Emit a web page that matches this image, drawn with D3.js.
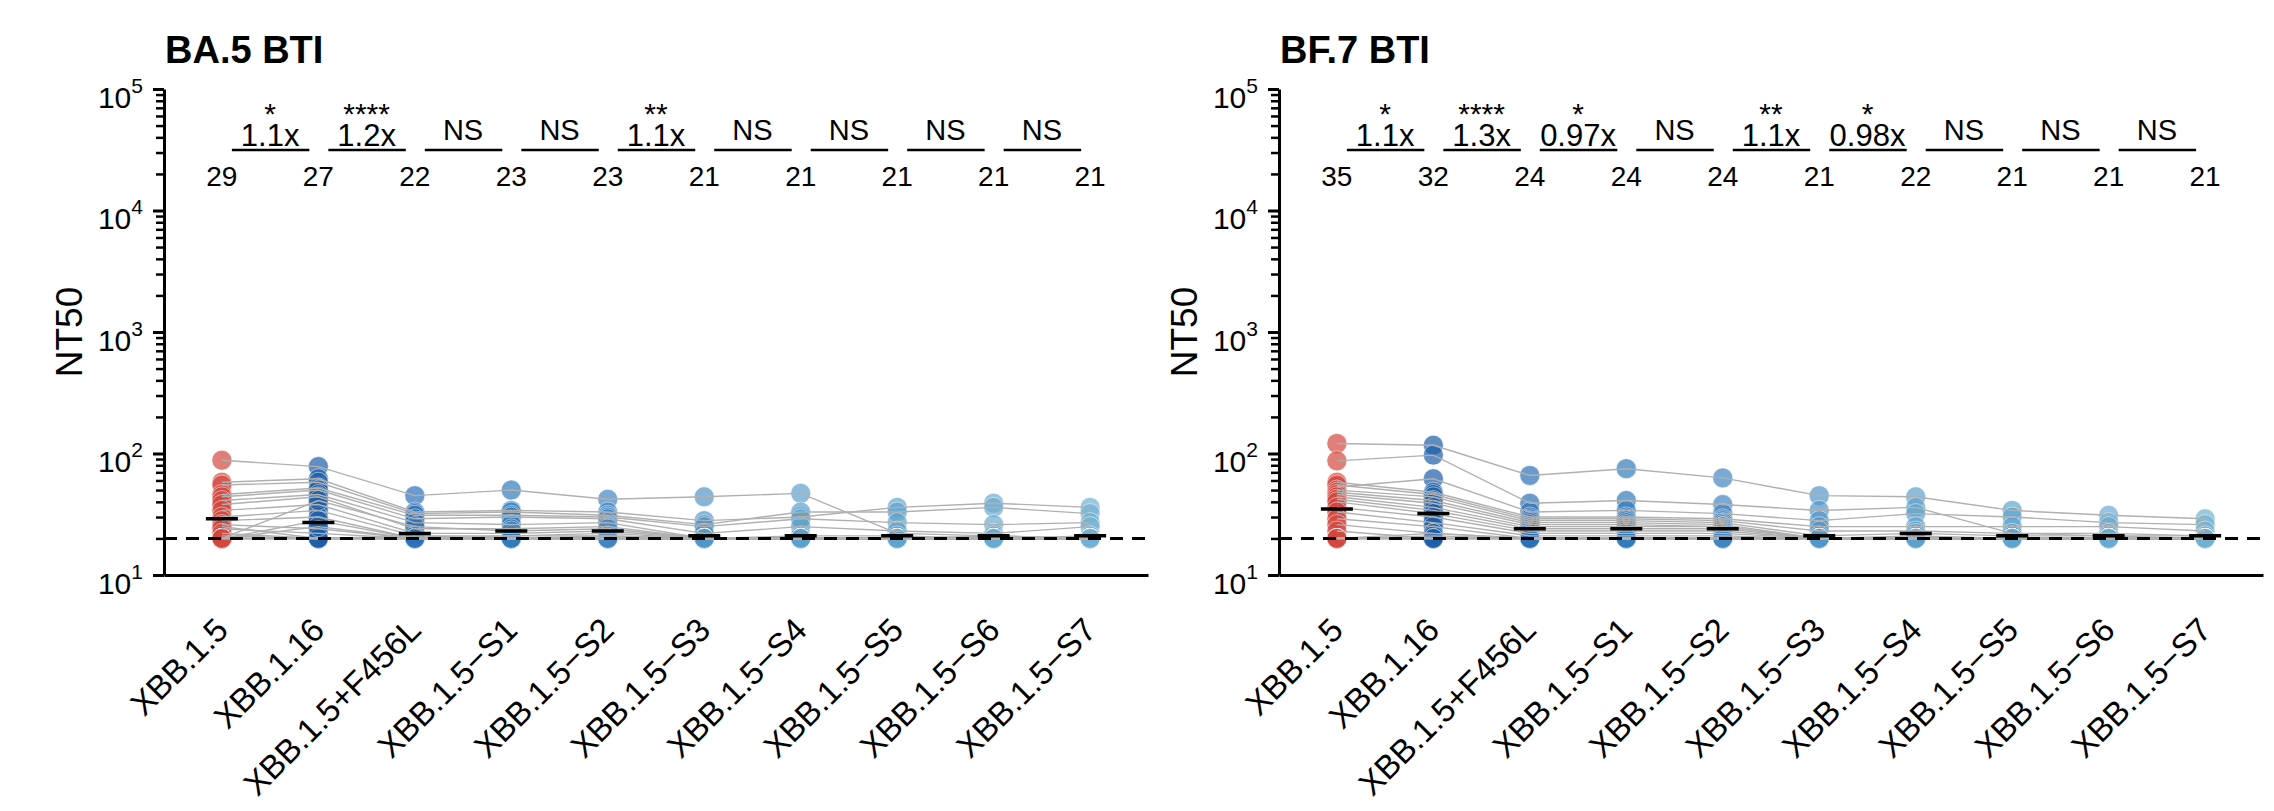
<!DOCTYPE html>
<html>
<head>
<meta charset="utf-8">
<script src="https://cdn.jsdelivr.net/npm/d3@7"></script>
<style>
  body { margin: 0; background: #fff; }
  text { font-family: "Liberation Sans", Arial, sans-serif; fill: #000; }
</style>
</head>
<body>
<script>
// categories on the x axis and their point colours
var categories = ["XBB.1.5", "XBB.1.16", "XBB.1.5+F456L", "XBB.1.5\u2212S1", "XBB.1.5\u2212S2",
                  "XBB.1.5\u2212S3", "XBB.1.5\u2212S4", "XBB.1.5\u2212S5", "XBB.1.5\u2212S6", "XBB.1.5\u2212S7"];
var pointColors = ["#d3473e", "#1c5ea8", "#2c70b6", "#317cbc", "#4185c0",
                   "#5295c9", "#5ca1ca", "#5ea4cd", "#69abd0", "#72b0d1"];
var yTicks = [10, 100, 1000, 10000, 100000];
var lod = 20;

// BA.5 BTI
var ba5Title = "BA.5 BTI";
var ba5Gmt = [29, 27, 22, 23, 23, 21, 21, 21, 21, 21];
var ba5Fold = ["1.1x", "1.2x", "NS", "NS", "1.1x", "NS", "NS", "NS", "NS"];
var ba5Stars = ["*", "****", "", "", "**", "", "", "", ""];
var ba5Donors = [
  [88, 78, 45, 50, 42, 44, 47, 22, 21, 20],
  [58, 62, 33, 34, 33, 28, 30, 36, 39, 36],
  [55, 58, 32, 33, 31, 26, 33, 33, 36, 32],
  [46, 52, 31, 31, 30, 25, 29, 27, 26, 27],
  [44, 50, 29, 30, 29, 22, 25, 23, 22, 25],
  [41, 46, 27, 26, 27, 20, 21, 21, 20, 21],
  [38, 44, 24, 24, 25, 20, 20, 20, 20, 20],
  [34, 38, 22, 22, 23, 20, 20, 20, 21, 20],
  [30, 34, 21, 21, 22, 20, 20, 20, 20, 20],
  [28, 30, 20, 21, 21, 20, 20, 20, 20, 20],
  [26, 24, 20, 20, 20, 20, 20, 20, 20, 20],
  [25, 20, 20, 20, 20, 20, 20, 20, 20, 20],
  [24, 22, 20, 20, 20, 20, 20, 20, 20, 20],
  [21, 20, 20, 20, 20, 20, 20, 20, 20, 20],
  [22, 20, 20, 20, 20, 20, 20, 20, 20, 20],
  [20, 20, 20, 20, 20, 20, 20, 20, 20, 20],
  [20, 41, 25, 23, 24, 20, 20, 20, 20, 20],
  [20, 28, 20, 20, 21, 20, 20, 20, 20, 20],
  [20, 20, 20, 20, 20, 20, 20, 20, 20, 20],
  [20, 20, 21, 20, 20, 20, 20, 20, 20, 20],
  [20, 20, 20, 20, 20, 20, 20, 20, 20, 20],
  [20, 25, 20, 20, 20, 20, 20, 20, 20, 20]
];

// BF.7 BTI
var bf7Title = "BF.7 BTI";
var bf7Gmt = [35, 32, 24, 24, 24, 21, 22, 21, 21, 21];
var bf7Fold = ["1.1x", "1.3x", "0.97x", "NS", "1.1x", "0.98x", "NS", "NS", "NS"];
var bf7Stars = ["*", "****", "*", "", "**", "*", "", "", ""];
var bf7Donors = [
  [121, 117, 66, 75, 63, 45, 44, 34, 31, 29],
  [87, 97, 39, 41, 38, 34, 36, 22, 21, 21],
  [53, 62, 33, 34, 32, 28, 32, 30, 27, 26],
  [58, 48, 30, 30, 29, 25, 25, 25, 25, 23],
  [55, 46, 29, 29, 28, 23, 23, 22, 22, 21],
  [50, 44, 28, 28, 27, 21, 22, 21, 21, 20],
  [48, 41, 27, 27, 26, 20, 21, 20, 20, 20],
  [46, 39, 26, 26, 25, 20, 20, 20, 20, 20],
  [44, 36, 25, 25, 25, 20, 20, 20, 20, 20],
  [42, 34, 24, 24, 24, 20, 20, 20, 20, 20],
  [40, 32, 23, 23, 23, 20, 20, 20, 20, 20],
  [36, 30, 22, 22, 22, 20, 20, 20, 20, 20],
  [33, 27, 21, 21, 21, 20, 20, 20, 20, 20],
  [29, 25, 20, 20, 20, 20, 20, 20, 20, 20],
  [26, 22, 20, 20, 20, 20, 20, 20, 20, 20],
  [23, 20, 20, 20, 20, 20, 20, 20, 20, 20],
  [20, 20, 20, 20, 20, 20, 20, 20, 20, 20],
  [20, 22, 20, 20, 20, 20, 20, 20, 20, 20],
  [20, 20, 20, 20, 20, 20, 20, 20, 20, 20],
  [20, 21, 20, 20, 20, 20, 20, 20, 20, 20],
  [20, 20, 20, 20, 20, 20, 20, 20, 20, 20],
  [20, 20, 20, 20, 20, 20, 20, 20, 20, 20]
];

var width = 2274;
var height = 811;

var svg = d3.select("body")
            .append("svg")
            .attr("width", width)
            .attr("height", height);

svg.append("rect").attr("width", width).attr("height", height).attr("fill", "#fff");

function drawPanel(left, title, gmt, fold, stars, donors) {
    var plotW = 984, top = 89, bottom = 575;

    var x = d3.scalePoint()
              .domain(categories)
              .range([left, left + plotW])
              .padding(0.6);
    var y = d3.scaleLog()
              .domain([10, 100000])
              .range([bottom, top]);
    var color = d3.scaleOrdinal().domain(categories).range(pointColors);

    var g = svg.append("g");

    // minor log ticks
    var minors = [];
    for (var e = 1; e < 5; e++) {
        for (var m = 2; m < 10; m++) minors.push(m * Math.pow(10, e));
    }
    var minorAxis = g.append("g")
        .attr("transform", "translate(" + left + ",0)")
        .call(d3.axisLeft(y).tickValues(minors).tickSize(8).tickSizeOuter(0).tickFormat(""));
    minorAxis.select(".domain").remove();
    minorAxis.selectAll("line").attr("stroke", "#000").attr("stroke-width", 2.5);

    var yAxis = g.append("g")
        .attr("transform", "translate(" + left + ",0)")
        .call(d3.axisLeft(y).tickValues(yTicks).tickSize(11).tickSizeOuter(0).tickFormat(""));
    yAxis.select(".domain").attr("stroke", "#000").attr("stroke-width", 3);
    yAxis.selectAll(".tick line").attr("stroke", "#000").attr("stroke-width", 3);
    yAxis.selectAll(".tick").each(function(d) {
        var t = d3.select(this).append("text")
                  .attr("x", -21)
                  .attr("y", 18)
                  .attr("text-anchor", "end")
                  .attr("font-family", "Liberation Sans, Arial, sans-serif")
                  .attr("font-size", 30);
        t.append("tspan").text("10");
        t.append("tspan").attr("dy", -15).attr("font-size", 21).text(Math.round(Math.log10(d)));
    });

    var xAxis = g.append("g")
        .attr("transform", "translate(0," + bottom + ")")
        .call(d3.axisBottom(x).tickSize(0).tickSizeOuter(0).tickFormat(""));
    xAxis.select(".domain").attr("stroke", "#000").attr("stroke-width", 3);

    // rotated category labels
    g.selectAll(".xlab")
     .data(categories)
     .enter()
     .append("text")
     .attr("class", "xlab")
     .attr("transform", function(d) { return "translate(" + (x(d) + 8) + "," + 632 + ") rotate(-45)"; })
     .attr("text-anchor", "end")
     .attr("font-size", 33)
     .text(function(d) { return d; });

    // y title
    g.append("text")
     .attr("transform", "translate(" + (left - 82) + "," + ((top + bottom) / 2) + ") rotate(-90)")
     .attr("text-anchor", "middle")
     .attr("font-size", 37)
     .text("NT50");

    // panel title
    g.append("text")
     .attr("x", left + 1)
     .attr("y", 63)
     .attr("font-size", 38)
     .attr("font-weight", "bold")
     .text(title);

    // points
    var points = [];
    donors.forEach(function(row) {
        row.forEach(function(v, j) { points.push({cat: categories[j], v: v}); });
    });
    g.selectAll(".pt")
     .data(points)
     .enter()
     .append("circle")
     .attr("class", "pt")
     .attr("cx", function(d) { return x(d.cat); })
     .attr("cy", function(d) { return y(d.v); })
     .attr("r", 10)
     .attr("fill", function(d) { return color(d.cat); })
     .attr("fill-opacity", 0.7)
     .attr("stroke", "#fff")
     .attr("stroke-opacity", 0.5)
     .attr("stroke-width", 1);

    // paired lines
    var line = d3.line()
                 .x(function(v, j) { return x(categories[j]); })
                 .y(function(v) { return y(v); });
    g.selectAll(".pair")
     .data(donors)
     .enter()
     .append("path")
     .attr("class", "pair")
     .attr("d", line)
     .attr("fill", "none")
     .attr("stroke", "#b0b0b0")
     .attr("stroke-width", 1.4);

    // limit of detection
    g.append("line")
     .attr("x1", left).attr("x2", left + plotW)
     .attr("y1", y(lod)).attr("y2", y(lod))
     .attr("stroke", "#000")
     .attr("stroke-width", 3)
     .attr("stroke-dasharray", "13,9");

    // geometric mean bars
    g.selectAll(".gmt")
     .data(gmt)
     .enter()
     .append("line")
     .attr("class", "gmt")
     .attr("x1", function(d, i) { return x(categories[i]) - 16; })
     .attr("x2", function(d, i) { return x(categories[i]) + 16; })
     .attr("y1", function(d) { return y(d); })
     .attr("y2", function(d) { return y(d); })
     .attr("stroke", "#000")
     .attr("stroke-width", 3.5);

    // GMT numbers
    g.selectAll(".gmtlab")
     .data(gmt)
     .enter()
     .append("text")
     .attr("class", "gmtlab")
     .attr("x", function(d, i) { return x(categories[i]); })
     .attr("y", 186)
     .attr("text-anchor", "middle")
     .attr("font-size", 28)
     .text(function(d) { return d; });

    // comparison brackets
    var mid = function(i) { return (x(categories[i]) + x(categories[i + 1])) / 2; };
    g.selectAll(".brk")
     .data(fold)
     .enter()
     .append("line")
     .attr("class", "brk")
     .attr("x1", function(d, i) { return x(categories[i]) + 10; })
     .attr("x2", function(d, i) { return x(categories[i + 1]) - 9; })
     .attr("y1", 150).attr("y2", 150)
     .attr("stroke", "#000")
     .attr("stroke-width", 2.7);
    g.selectAll(".fold")
     .data(fold)
     .enter()
     .append("text")
     .attr("class", "fold")
     .attr("x", function(d, i) { return mid(i); })
     .attr("y", function(d) { return d === "NS" ? 140 : 146; })
     .attr("text-anchor", "middle")
     .attr("font-size", function(d) { return d === "NS" ? 29 : 31; })
     .text(function(d) { return d; });
    g.selectAll(".star")
     .data(stars)
     .enter()
     .append("text")
     .attr("class", "star")
     .attr("x", function(d, i) { return mid(i); })
     .attr("y", 124)
     .attr("text-anchor", "middle")
     .attr("font-size", 30)
     .text(function(d) { return d; });
}

drawPanel(164, ba5Title, ba5Gmt, ba5Fold, ba5Stars, ba5Donors);
drawPanel(1279, bf7Title, bf7Gmt, bf7Fold, bf7Stars, bf7Donors);
</script>
</body>
</html>
